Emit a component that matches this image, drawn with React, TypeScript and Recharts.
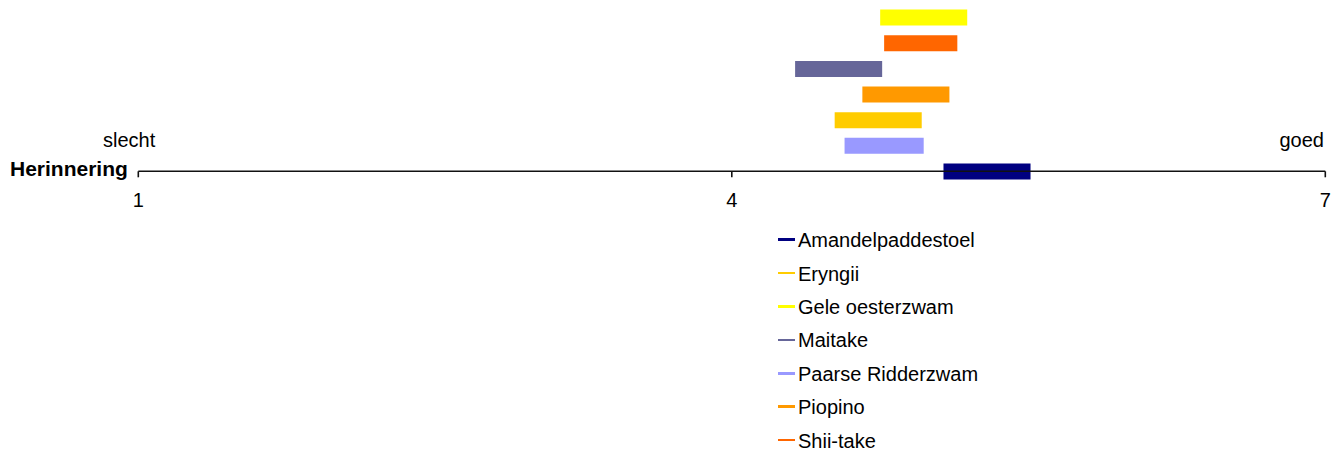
import React from 'react';
import { BarChart, Bar, XAxis, YAxis, Cell } from 'recharts';

// legend order (alphabetical, as in the original)
const NAMES = ['Amandelpaddestoel', 'Eryngii', 'Gele oesterzwam', 'Maitake', 'Paarse Ridderzwam', 'Piopino', 'Shii-take'];
const COLORS = ['#000080', '#FFCC00', '#FFFF00', '#666699', '#9999FF', '#FF9900', '#FF6600'];
// range of the memory score per mushroom
const LOW = [5.07, 4.52, 4.75, 4.32, 4.57, 4.66, 4.77];
const HIGH = [5.51, 4.96, 5.19, 4.76, 4.97, 5.10, 5.14];
// vertical slot (0 = on the axis, counting upward)
const ROW = [0, 2, 6, 4, 1, 3, 5];

const SCALE_TICKS = [1, 4, 7];
const ROW_TICKS = [0, 1, 2, 3, 4, 5, 6];

const FONT = '"Liberation Sans", Arial, sans-serif';

const data = NAMES.map((name, i) => ({
  name,
  row: ROW[i],
  range: [LOW[i], HIGH[i]],
  color: COLORS[i],
}));

export default function App() {
  return (
    <div style={{ position: 'absolute', left: 0, top: 0, width: 1343, height: 454, background: '#fff', fontFamily: FONT }}>
      <BarChart
        width={1343}
        height={454}
        data={data}
        layout="vertical"
        margin={{ top: 4.6, right: 17.7, bottom: 242.7, left: 138.3 }}
      >
        <XAxis
          type="number"
          domain={[1, 7]}
          ticks={SCALE_TICKS}
          allowDataOverflow
          height={40}
          stroke="#111"
          axisLine={{ stroke: '#111', strokeWidth: 1.6 }}
          tickLine={{ stroke: '#111', strokeWidth: 1.6 }}
          tickSize={6}
          tickMargin={15}
          tick={{ fill: '#000', fontSize: 20, fontFamily: FONT }}
        />
        <YAxis type="number" dataKey="row" domain={[0, 6.5]} ticks={ROW_TICKS} reversed hide />
        <Bar dataKey="range" barSize={16} isAnimationActive={false}>
          {data.map((d, i) => (
            <Cell key={`c-${i}`} fill={d.color} />
          ))}
        </Bar>
      </BarChart>

      {/* scale end labels and axis title */}
      <svg width={1343} height={454} style={{ position: 'absolute', left: 0, top: 0, pointerEvents: 'none' }}>
        <text x={103} y={147} fontSize={20} fontFamily={FONT} fill="#000">slecht</text>
        <text x={1324} y={147} fontSize={20} fontFamily={FONT} fill="#000" textAnchor="end">goed</text>
        <text x={10} y={176} fontSize={21} fontWeight="bold" fontFamily={FONT} fill="#000">Herinnering</text>
      </svg>

      {/* legend */}
      <div style={{ position: 'absolute', left: 778, top: 224, fontSize: 20, fontFamily: FONT, color: '#000' }}>
        {NAMES.map((n, i) => (
          <div key={n} style={{ display: 'flex', alignItems: 'center', height: 33.4, whiteSpace: 'nowrap' }}>
            <span style={{ display: 'inline-block', width: 17, height: 2.5, background: COLORS[i], marginRight: 3, marginTop: -2 }} />
            <span>{n}</span>
          </div>
        ))}
      </div>
    </div>
  );
}
